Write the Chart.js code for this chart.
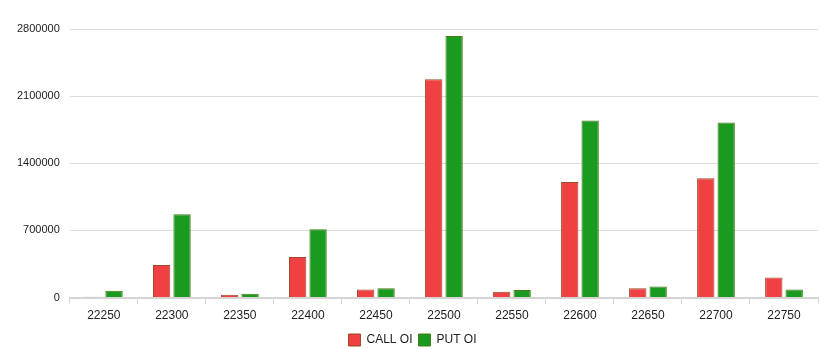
<!DOCTYPE html>
<html>
<head>
<meta charset="utf-8">
<script src="https://cdn.jsdelivr.net/npm/chart.js@4.4.1/dist/chart.umd.min.js"></script>
<style>
  html, body { margin: 0; padding: 0; background: #fff; }
  #wrap { width: 828px; height: 350px; position: relative; }
</style>
</head>
<body>
<div id="wrap"><canvas id="myChart"></canvas></div>
<script>
// strikes and open interest
const strikes = ['22250', '22300', '22350', '22400', '22450', '22500', '22550', '22600', '22650', '22700', '22750'];
const callOI = [10000, 340000, 30000, 423000, 84000, 2275000, 60000, 1206000, 98000, 1245000, 210000];
const putOI = [72000, 870000, 40000, 713000, 98000, 2727000, 80000, 1846000, 115000, 1825000, 84000];
const yTicks = [0, 700000, 1400000, 2100000, 2800000];

Chart.defaults.font.family = '"Liberation Sans", Arial, sans-serif';
Chart.defaults.color = '#333';

const ctx = document.getElementById('myChart').getContext('2d');
const myChart = new Chart(ctx, {
    type: 'bar',
    data: {
        labels: strikes,
        datasets: [{
            label: 'CALL OI',
            data: callOI,
            backgroundColor: '#ef4141',
            borderColor: '#9b4a2a',
            borderWidth: 1
        }, {
            label: 'PUT OI',
            data: putOI,
            backgroundColor: '#1a9a1e',
            borderColor: '#4a7a1a',
            borderWidth: 1
        }]
    },
    options: {
        responsive: true,
        maintainAspectRatio: false,
        animation: false,
        layout: { padding: { top: 29, right: 10, left: 7, bottom: -6 } },
        datasets: { bar: { categoryPercentage: 0.6, barPercentage: 0.85 } },
        plugins: {
            legend: {
                position: 'bottom',
                labels: { boxWidth: 12, boxHeight: 12, padding: 6, font: { size: 12 }, color: '#222' }
            },
            tooltip: { enabled: false }
        },
        scales: {
            y: {
                min: 0,
                max: yTicks[yTicks.length - 1],
                afterBuildTicks: axis => { axis.ticks = yTicks.map(v => ({ value: v })); },
                ticks: { font: { size: 11 }, color: '#222', padding: 10, callback: v => String(v) },
                grid: { color: '#dddddd', drawTicks: false },
                border: { display: false }
            },
            x: {
                ticks: { font: { size: 12 }, color: '#222', padding: 5 },
                grid: { drawOnChartArea: false, drawTicks: true, tickLength: 6, color: '#d4d4d4', offset: true },
                border: { display: true, color: '#d4d4d4', width: 2 }
            }
        }
    }
});
</script>
</body>
</html>
